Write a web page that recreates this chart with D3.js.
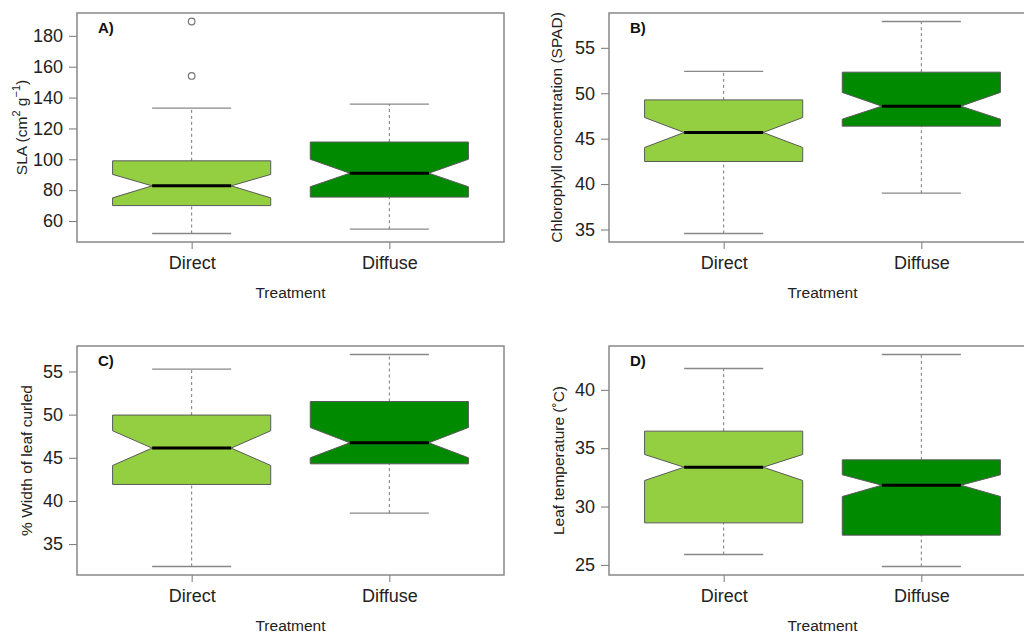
<!DOCTYPE html>
<html>
<head>
<meta charset="utf-8">
<script src="https://cdn.jsdelivr.net/npm/d3@7"></script>
<style>
  body { margin: 0; background: #fff; }
  svg { display: block; font-family: "Liberation Sans", Arial, sans-serif; }
  .tick text { fill: #222; }
  .axis-label { fill: #222; }
</style>
</head>
<body>
<svg width="1024" height="633"></svg>
<script>
// groups on the x axis
var groups = ["Direct", "Diffuse"];

// box stats per panel, one per group:
// [whisker low, box low, notch low, median, notch high, box high, whisker high]
var slaStats = [
  [51.9, 70.0, 75.0, 82.8, 90.2, 99.0, 133.2],
  [54.7, 75.5, 82.2, 91.0, 100.0, 111.2, 135.8]
];
var slaOutliers = [[189.3, 154.0], []];
var slaTicks = [60, 80, 100, 120, 140, 160, 180];

var spadStats = [
  [34.56, 42.49, 44.03, 45.68, 47.33, 49.27, 52.4],
  [39.0, 46.38, 47.15, 48.58, 50.09, 52.32, 57.9]
];
var spadOutliers = [[], []];
var spadTicks = [35, 40, 45, 50, 55];

var curlStats = [
  [32.4, 41.91, 44.11, 46.12, 48.13, 49.95, 55.28],
  [38.59, 44.3, 45.0, 46.74, 48.51, 51.52, 56.97]
];
var curlOutliers = [[], []];
var curlTicks = [35, 40, 45, 50, 55];

var tempStats = [
  [25.89, 28.6, 32.23, 33.37, 34.46, 36.46, 41.83],
  [24.86, 27.55, 30.86, 31.83, 32.72, 34.0, 43.03]
];
var tempOutliers = [[], []];
var tempTicks = [25, 30, 35, 40];

var fills = ["#93cf40", "#008a00"];

var svg = d3.select("svg");

var panels = [
  { tag: "A)", stats: slaStats, outliers: slaOutliers, ticks: slaTicks,
    left: 77, top: 13, labelOff: 50, label: "sla" },
  { tag: "B)", stats: spadStats, outliers: spadOutliers, ticks: spadTicks,
    left: 609, top: 13, labelOff: 47, label: "Chlorophyll concentration (SPAD)" },
  { tag: "C)", stats: curlStats, outliers: curlOutliers, ticks: curlTicks,
    left: 77, top: 346, labelOff: 45, label: "% Width of leaf curled" },
  { tag: "D)", stats: tempStats, outliers: tempOutliers, ticks: tempTicks,
    left: 609, top: 346, labelOff: 45, label: "Leaf temperature (\u02daC)" }
];

var plotW = 427, plotH = 229;

panels.forEach(function (p) {
  var g = svg.append("g")
    .attr("transform", "translate(" + p.left + "," + p.top + ")");

  // R style range: data extent padded by 4%
  var all = [];
  p.stats.forEach(function (s, i) { all = all.concat(s, p.outliers[i]); });
  var ext = d3.extent(all);
  var pad = (ext[1] - ext[0]) * 0.04;

  var y = d3.scaleLinear()
    .domain([ext[0] - pad, ext[1] + pad])
    .range([plotH, 0]);

  // xlim 0.5..2.5 padded by 4% like R
  var x = d3.scaleLinear()
    .domain([0.42, 2.58])
    .range([0, plotW]);

  var halfBox = x(1.4) - x(1);
  var halfCap = halfBox / 2;

  var boxes = g.selectAll("g.box")
    .data(p.stats)
    .enter()
    .append("g")
    .attr("class", "box");

  // whiskers (dashed)
  boxes.append("line")
    .attr("x1", function (d, i) { return x(i + 1); })
    .attr("x2", function (d, i) { return x(i + 1); })
    .attr("y1", function (d) { return y(d[0]); })
    .attr("y2", function (d) { return y(d[1]); })
    .attr("stroke", "#777").attr("stroke-dasharray", "3,3");
  boxes.append("line")
    .attr("x1", function (d, i) { return x(i + 1); })
    .attr("x2", function (d, i) { return x(i + 1); })
    .attr("y1", function (d) { return y(d[5]); })
    .attr("y2", function (d) { return y(d[6]); })
    .attr("stroke", "#777").attr("stroke-dasharray", "3,3");

  // caps
  [0, 6].forEach(function (k) {
    boxes.append("line")
      .attr("x1", function (d, i) { return x(i + 1) - halfCap; })
      .attr("x2", function (d, i) { return x(i + 1) + halfCap; })
      .attr("y1", function (d) { return y(d[k]); })
      .attr("y2", function (d) { return y(d[k]); })
      .attr("stroke", "#888").attr("stroke-width", 1.3);
  });

  // notched box
  boxes.append("path")
    .attr("d", function (d, i) {
      var c = x(i + 1);
      var pts = [
        [c - halfBox, y(d[1])], [c - halfBox, y(d[2])], [c - halfCap, y(d[3])],
        [c - halfBox, y(d[4])], [c - halfBox, y(d[5])], [c + halfBox, y(d[5])],
        [c + halfBox, y(d[4])], [c + halfCap, y(d[3])], [c + halfBox, y(d[2])],
        [c + halfBox, y(d[1])]
      ];
      return d3.line()(pts) + "Z";
    })
    .attr("fill", function (d, i) { return fills[i]; })
    .attr("stroke", "#5a5a5a").attr("stroke-width", 1);

  // median
  boxes.append("line")
    .attr("x1", function (d, i) { return x(i + 1) - halfCap; })
    .attr("x2", function (d, i) { return x(i + 1) + halfCap; })
    .attr("y1", function (d) { return y(d[3]); })
    .attr("y2", function (d) { return y(d[3]); })
    .attr("stroke", "#000").attr("stroke-width", 3);

  // outliers
  p.outliers.forEach(function (o, i) {
    g.selectAll(null)
      .data(o)
      .enter()
      .append("circle")
      .attr("cx", x(i + 1))
      .attr("cy", function (d) { return y(d); })
      .attr("r", 3.3)
      .attr("fill", "none")
      .attr("stroke", "#777").attr("stroke-width", 1.2);
  });

  // axes
  var yAxis = d3.axisLeft(y).tickValues(p.ticks).tickSize(8).tickPadding(6);
  var yg = g.append("g").call(yAxis);
  yg.select(".domain").remove();
  yg.selectAll("line").attr("stroke", "#777");
  yg.selectAll("text").attr("font-size", 18);

  var xAxis = d3.axisBottom(x).tickValues([1, 2])
    .tickFormat(function (d) { return groups[d - 1]; })
    .tickSize(7).tickPadding(7);
  var xg = g.append("g").attr("transform", "translate(0," + plotH + ")").call(xAxis);
  xg.select(".domain").remove();
  xg.selectAll("line").attr("stroke", "#777");
  xg.selectAll("text").attr("font-size", 18);

  // frame
  g.append("rect")
    .attr("width", plotW).attr("height", plotH)
    .attr("fill", "none").attr("stroke", "#888").attr("stroke-width", 1.5);

  // panel tag
  g.append("text")
    .text(p.tag)
    .attr("x", 21).attr("y", 20)
    .attr("font-weight", "bold").attr("font-size", 15)
    .attr("fill", "#111");

  // x label
  g.append("text")
    .attr("class", "axis-label")
    .text("Treatment")
    .attr("x", plotW / 2).attr("y", plotH + 56)
    .attr("text-anchor", "middle").attr("font-size", 15.5);

  // y label
  var yl = g.append("text")
    .attr("class", "axis-label")
    .attr("transform", "translate(" + (-p.labelOff) + "," + (plotH / 2) + ") rotate(-90)")
    .attr("text-anchor", "middle").attr("font-size", 15.5);
  if (p.label === "sla") {
    yl.append("tspan").text("SLA (cm");
    yl.append("tspan").text("2").attr("font-size", 11).attr("dy", -7);
    yl.append("tspan").text(" g").attr("dy", 7);
    yl.append("tspan").text("\u22121").attr("font-size", 11).attr("dy", -7);
    yl.append("tspan").text(")").attr("dy", 7);
  } else {
    yl.text(p.label);
  }
});
</script>
</body>
</html>
